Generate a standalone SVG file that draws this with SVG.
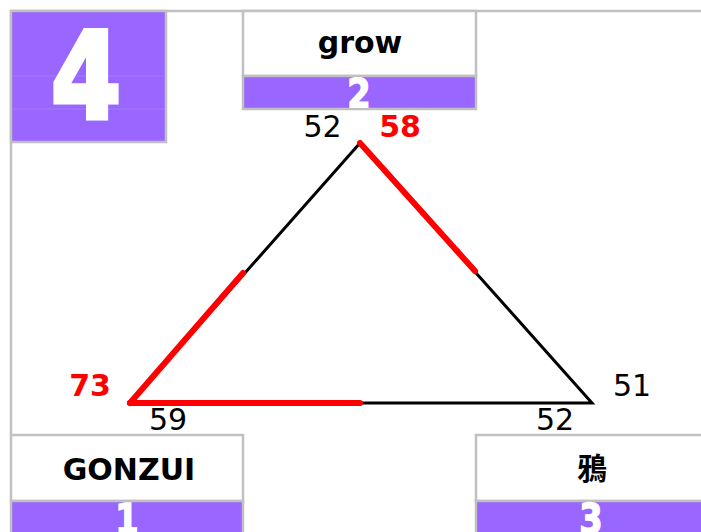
<svg xmlns="http://www.w3.org/2000/svg" width="701" height="532" viewBox="0 0 701 532">
<style>
.frame{fill:none;stroke:#c0c0c0;stroke-width:2.5}
.box{fill:#ffffff;stroke:#c0c0c0;stroke-width:2.5}
.strip{fill:#9966ff;stroke:#c0c0c0;stroke-width:2.5}
.name{font-family:"DejaVu Sans","Noto Sans CJK JP",sans-serif;font-weight:bold;font-size:30px;fill:#000;text-anchor:middle}
.num{font-family:"DejaVu Sans",sans-serif;font-weight:bold;fill:#fff;stroke:#fff;text-anchor:middle}
.lbl{font-family:"DejaVu Sans",sans-serif;font-size:30px;fill:#000;text-anchor:middle}
.hot{fill:#ff0000;font-weight:bold}
.edge{stroke:#000;stroke-width:3;fill:none}
.red{stroke:#ff0000;stroke-width:6;stroke-linecap:round;fill:none}
.faint{stroke:#a57dff;stroke-width:1}
</style>
<defs>
<clipPath id="c2"><rect x="244" y="77" width="231" height="31"/></clipPath>
<clipPath id="c1"><rect x="12" y="501" width="230" height="40"/></clipPath>
<clipPath id="c3"><rect x="477" y="501" width="230" height="40"/></clipPath>
</defs>
<rect width="701" height="532" fill="#ffffff"/>
<path class="frame" d="M11 435 V11 H705"/>
<g id="node-score">
<rect class="strip" x="11" y="11" width="155" height="131"/>
<line class="faint" x1="12" y1="76" x2="165" y2="76"/>
<line class="faint" x1="12" y1="109" x2="165" y2="109"/>
<text class="num" font-size="120" stroke-width="5" stroke-linejoin="miter" transform="translate(86,118) scale(0.84,1)" x="0" y="0">4</text>
</g>
<g id="node-grow">
<rect class="box" x="243" y="11" width="233" height="65"/>
<rect class="strip" x="243" y="76" width="233" height="33"/>
<g clip-path="url(#c2)"><text class="num" font-size="40" stroke-width="1.5" transform="translate(359,108) scale(0.84,1)" x="0" y="0">2</text></g>
<text class="name" x="360" y="53">grow</text>
</g>
<g id="node-gonzui">
<rect class="box" x="11" y="435" width="232" height="66"/>
<rect class="strip" x="11" y="501" width="232" height="40"/>
<g clip-path="url(#c1)"><text class="num" font-size="40" stroke-width="1.5" transform="translate(127,533) scale(0.84,1)" x="0" y="0">1</text></g>
<text class="name" x="129" y="480">GONZUI</text>
</g>
<g id="node-karasu">
<rect class="box" x="476" y="435" width="234" height="66"/>
<rect class="strip" x="476" y="501" width="234" height="40"/>
<g clip-path="url(#c3)"><text class="num" font-size="40" stroke-width="1.5" transform="translate(591,533) scale(0.84,1)" x="0" y="0">3</text></g>
<text class="name" x="592" y="479">鴉</text>
</g>
<g id="connectors">
<path class="edge" d="M360 143 L130 403 L592 403 Z"/>
<line class="red" x1="360" y1="143" x2="475" y2="271"/>
<line class="red" x1="130" y1="403" x2="243" y2="273"/>
<line class="red" x1="130" y1="403" x2="360" y2="403"/>
</g>
<g id="labels">
<text class="lbl" x="322.5" y="137">52</text>
<text class="lbl hot" x="400" y="137">58</text>
<text class="lbl hot" x="90" y="396">73</text>
<text class="lbl" x="168" y="430">59</text>
<text class="lbl" x="632" y="396">51</text>
<text class="lbl" x="555" y="430">52</text>
</g>
</svg>
